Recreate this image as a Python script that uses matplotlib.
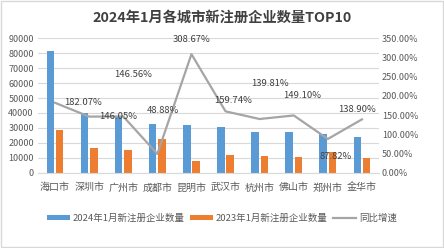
import matplotlib.pyplot as plt
import numpy as np
from matplotlib.patches import Rectangle

plt.rcParams['font.family'] = ['Noto Sans CJK SC', 'DejaVu Sans']

# === 数据 ===
cities = ["海口市", "深圳市", "广州市", "成都市", "昆明市", "武汉市", "杭州市", "佛山市", "郑州市", "金华市"]
n2024 = [81500, 39800, 38000, 32600, 31950, 30800, 27470, 27470, 25700, 23700]
n2023 = [28900, 16300, 15200, 22350, 7630, 11850, 11180, 10720, 13660, 10050]
growth = [182.07, 146.05, 146.56, 48.88, 308.67, 159.74, 139.81, 149.10, 87.82, 138.90]

# deslocamento dos rótulos (pixels), imitando o Excel
label_off = [(28, 0), (29, 0), (10, 42), (6, 43), (0, 15), (8, 11), (10, 36), (8, 20), (8, -18), (-5, 10)]

blue = "#5B9BD5"
orange = "#ED7D31"
grey = "#A5A5A5"
txt = "#595959"

fig = plt.figure(figsize=(4.44, 2.48), dpi=100)
fig.patches.append(Rectangle((0.003, 0.004), 0.994, 0.992, transform=fig.transFigure,
                             fill=False, edgecolor="#D9D9D9", lw=1))

ax = fig.add_axes([38 / 444, 1 - 172.7 / 248, 341 / 444, 134.4 / 248])
ax2 = ax.twinx()

x = np.arange(len(cities))
w = 0.22
ax.bar(x - 0.135, n2024, w, color=blue, label="2024年1月新注册企业数量", zorder=2)
ax.bar(x + 0.135, n2023, w, color=orange, label="2023年1月新注册企业数量", zorder=2)
ax.set_ylim(0, 90000)
ax.set_yticks(np.arange(0, 90001, 10000))
ax.set_xlim(-0.5, len(cities) - 0.5)
ax.set_xticks(x)
ax.set_xticklabels(cities)
ax.grid(axis="y", color="#D9D9D9", lw=0.8, zorder=0)
ax.set_axisbelow(True)

ax2.plot(x, growth, color=grey, lw=1.6, label="同比增速", zorder=3)
ax2.set_ylim(0, 350)
ax2.set_yticks(np.arange(0, 351, 50))
ax2.set_yticklabels([f"{v:.2f}%" for v in np.arange(0, 351, 50)])

for i, v in enumerate(growth):
    dx, dy = label_off[i]
    ax2.annotate(f"{v:.2f}%", (x[i], v), xytext=(dx * 0.72, dy * 0.72), textcoords="offset points",
                 ha="center", va="center", fontsize=6.8, color="#404040")

for a in (ax, ax2):
    for s in a.spines.values():
        s.set_visible(False)
    a.tick_params(length=0, labelsize=6.5, colors=txt)
ax.tick_params(axis="x", labelsize=7.2, pad=7)
ax.tick_params(axis="y", pad=3)
ax2.tick_params(axis="y", pad=2)
ax.spines["bottom"].set_visible(True)
ax.spines["bottom"].set_color("#D9D9D9")

fig.text(0.5, 1 - 18 / 248, "2024年1月各城市新注册企业数量TOP10", ha="center", va="center",
         fontsize=10.3, fontweight="bold", color="#404040")

h1, l1 = ax.get_legend_handles_labels()
h2, l2 = ax2.get_legend_handles_labels()
fig.legend(h1 + h2, l1 + l2, loc="center", bbox_to_anchor=(222 / 444, 1 - 218 / 248), ncol=3,
           frameon=False, fontsize=6.8, labelcolor=txt, handlelength=2.4, handleheight=0.5,
           columnspacing=0.6, handletextpad=0.3)

fig.savefig("out.png", dpi=100)
